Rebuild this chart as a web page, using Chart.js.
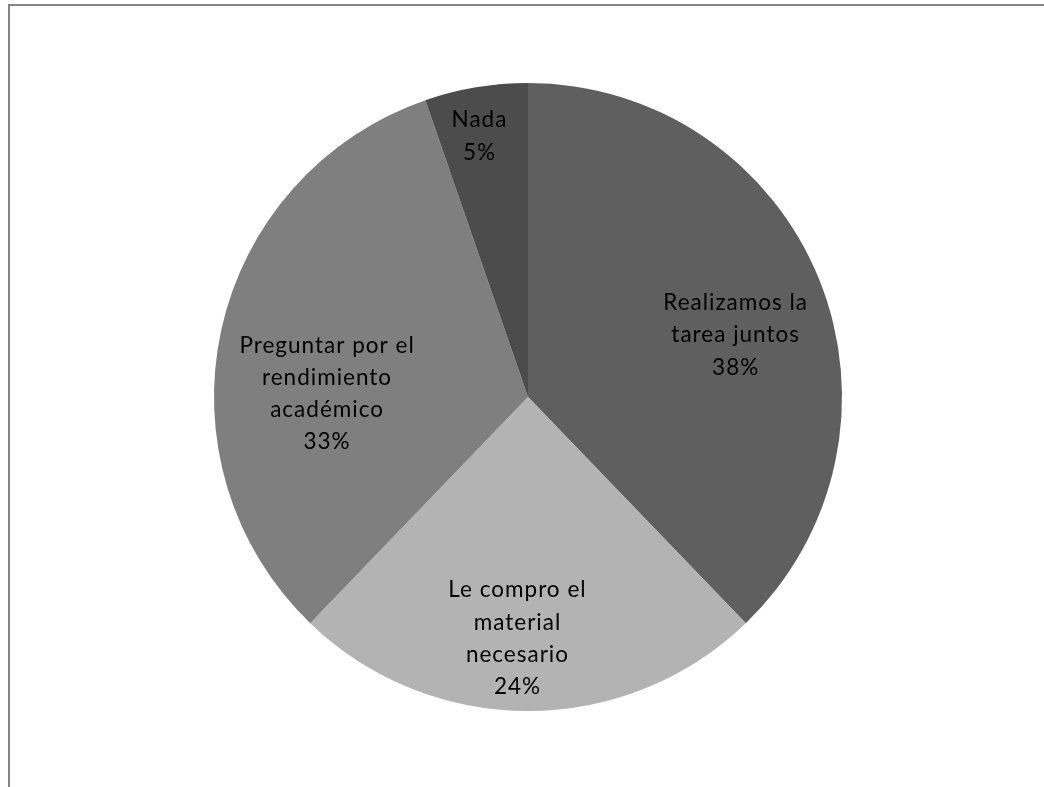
<!DOCTYPE html>
<html>
<head>
<meta charset="utf-8">
<script src="https://cdn.jsdelivr.net/npm/chart.js@4/dist/chart.umd.min.js"></script>
<style>
  html, body { margin: 0; padding: 0; background: #fff; }
  #wrap { position: relative; width: 1044px; height: 787px; overflow: hidden; }
  #frame { position: absolute; left: 8px; top: 4px; right: -10px; bottom: -10px;
           border-top: 2px solid #868686; border-left: 2px solid #868686; }
  canvas { position: absolute; left: 0; top: 0; }
</style>
</head>
<body>
<div id="wrap">
  <div id="frame"></div>
  <canvas id="c" width="1044" height="787"></canvas>
</div>
<script>
const categories = [
  ["Realizamos la", "tarea juntos"],
  ["Le compro el", "material", "necesario"],
  ["Preguntar por el", "rendimiento", "académico"],
  ["Nada"]
];
const values = [37.8, 24.4, 32.5, 5.3];
const percentLabels = ["38%", "24%", "33%", "5%"];
const sliceColors = ["#5f5f5f", "#b3b3b3", "#7f7f7f", "#4c4c4c"];

// label anchor: [angle offset (deg) from slice bisector, distance as fraction of radius]
const labelAnchors = [[5.4, 0.69], [2.5, 0.77], [-11.5, 0.64], [-1, 0.845]];

const labelPlugin = {
  id: 'sliceLabels',
  afterDatasetsDraw(chart) {
    const ctx = chart.ctx;
    const meta = chart.getDatasetMeta(0);
    ctx.save();
    ctx.font = '22.5px Lato, "Open Sans", sans-serif';
    if ('letterSpacing' in ctx) ctx.letterSpacing = '1px';
    ctx.fillStyle = '#000';
    ctx.textAlign = 'center';
    ctx.textBaseline = 'middle';
    const lineH = 32.3;
    meta.data.forEach((arc, i) => {
      const p = arc.getProps(['x', 'y', 'startAngle', 'endAngle', 'outerRadius'], true);
      const mid = (p.startAngle + p.endAngle) / 2 + labelAnchors[i][0] * Math.PI / 180;
      const r = p.outerRadius * labelAnchors[i][1];
      const cx = p.x + Math.cos(mid) * r;
      const cy = p.y + Math.sin(mid) * r;
      const lines = categories[i].concat([percentLabels[i]]);
      const y0 = cy - (lines.length - 1) * lineH / 2;
      lines.forEach((t, k) => ctx.fillText(t, cx, y0 + k * lineH));
    });
    ctx.restore();
  }
};

new Chart(document.getElementById('c'), {
  type: 'pie',
  data: {
    labels: categories.map(c => c.join(' ')),
    datasets: [{
      data: values,
      backgroundColor: sliceColors,
      borderWidth: 0
    }]
  },
  options: {
    responsive: false,
    animation: false,
    layout: { padding: { left: 214, right: 202, top: 83, bottom: 76 } },
    plugins: { legend: { display: false }, tooltip: { enabled: false } }
  },
  plugins: [labelPlugin]
});
</script>
</body>
</html>
